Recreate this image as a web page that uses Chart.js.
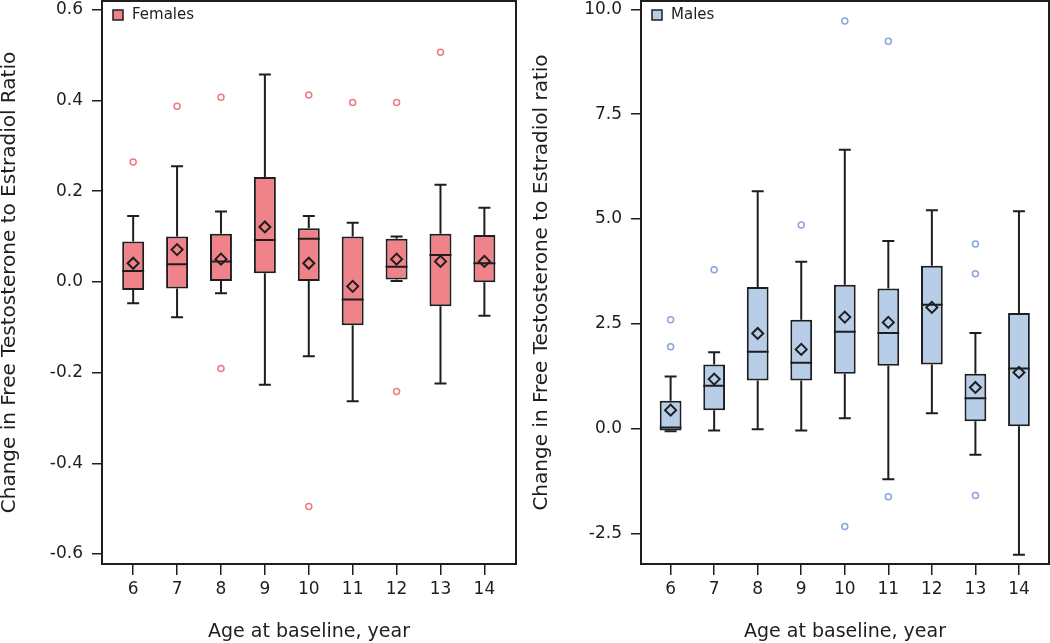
<!DOCTYPE html>
<html>
<head>
<meta charset="utf-8">
<title>Change in Free Testosterone to Estradiol Ratio by age</title>
<script src="https://cdn.jsdelivr.net/npm/chart.js@4.4.1/dist/chart.umd.min.js"></script>
<style>
    body { margin: 0; background: #fff; }
    .panel { position: absolute; top: 0; width: 525px; height: 643px; }
</style>
</head>
<body>
<div class="panel" style="left:0"><canvas id="femaleChart"></canvas></div>
<div class="panel" style="left:525px"><canvas id="maleChart"></canvas></div>
<script>
// Age categories (x axis)
const ages = [6, 7, 8, 9, 10, 11, 12, 13, 14];

// Females - box statistics
const femMin  = [-0.047, -0.078, -0.025, -0.227, -0.164, -0.263, 0.002, -0.224, -0.075];
const femQ1   = [-0.018, -0.015, 0.002, 0.019, 0.002, -0.096, 0.005, -0.054, -0.001];
const femMed  = [0.024, 0.039, 0.045, 0.092, 0.095, -0.039, 0.033, 0.059, 0.041];
const femQ3   = [0.089, 0.100, 0.106, 0.231, 0.118, 0.100, 0.095, 0.106, 0.103];
const femMax  = [0.145, 0.255, 0.155, 0.457, 0.145, 0.130, 0.100, 0.214, 0.163];
const femMean = [0.041, 0.071, 0.050, 0.121, 0.041, -0.010, 0.050, 0.045, 0.045];
const femOutAge = [6, 7, 8, 8, 10, 10, 11, 12, 12, 13];
const femOutVal = [0.264, 0.387, 0.407, -0.191, 0.412, -0.495, 0.395, 0.395, -0.242, 0.506];
const femTicks = [-0.6, -0.4, -0.2, 0.0, 0.2, 0.4, 0.6];

// Males - box statistics
const maleMin  = [-0.06, -0.04, -0.01, -0.04, 0.253, -1.202, 0.372, -0.620, -3.006];
const maleQ1   = [-0.04, 0.444, 1.152, 1.152, 1.312, 1.503, 1.534, 0.181, 0.062];
const maleMed  = [0.031, 1.026, 1.837, 1.574, 2.314, 2.281, 2.958, 0.730, 1.438];
const maleQ3   = [0.668, 1.534, 3.378, 2.600, 3.435, 3.347, 3.888, 1.312, 2.758];
const maleMax  = [1.248, 1.827, 5.661, 3.984, 6.655, 4.475, 5.208, 2.281, 5.184];
const maleMean = [0.444, 1.184, 2.273, 1.892, 2.662, 2.536, 2.894, 0.985, 1.343];
const maleOutAge = [6, 6, 7, 9, 10, 10, 11, 11, 13, 13, 13];
const maleOutVal = [2.60, 1.956, 3.793, 4.857, 9.723, -2.331, 9.239, -1.622, 4.404, 3.698, -1.591];
const maleTicks = [-2.5, 0.0, 2.5, 5.0, 7.5, 10.0];

const INK = "#1e1e1e";
const FONT = "'DejaVu Sans', sans-serif";

// whiskers, caps, medians, legend key and the plot frame
const boxParts = {
    id: 'boxParts',
    beforeDatasetsDraw(chart, args, opts) {
        const ctx = chart.ctx, x = chart.scales.x, y = chart.scales.y;
        ctx.save();
        ctx.strokeStyle = INK;
        ctx.lineWidth = 2;
        ctx.beginPath();
        ages.forEach((a, i) => {
            const px = x.getPixelForValue(a);
            const top = y.getPixelForValue(opts.max[i]);
            const bot = y.getPixelForValue(opts.min[i]);
            ctx.moveTo(px, top); ctx.lineTo(px, y.getPixelForValue(opts.q3[i]));
            ctx.moveTo(px, y.getPixelForValue(opts.q1[i])); ctx.lineTo(px, bot);
            ctx.moveTo(px - 6, top); ctx.lineTo(px + 6, top);
            ctx.moveTo(px - 6, bot); ctx.lineTo(px + 6, bot);
        });
        ctx.stroke();
        ctx.restore();
    },
    afterDatasetDraw(chart, args, opts) {
        if (args.index !== 0) return;
        const ctx = chart.ctx, y = chart.scales.y;
        const bars = chart.getDatasetMeta(0).data;
        ctx.save();
        ctx.strokeStyle = INK;
        ctx.lineWidth = 2;
        ctx.beginPath();
        bars.forEach((bar, i) => {
            const py = y.getPixelForValue(opts.med[i]);
            ctx.moveTo(bar.x - bar.width / 2, py);
            ctx.lineTo(bar.x + bar.width / 2, py);
        });
        ctx.stroke();
        ctx.restore();
    },
    afterDraw(chart) {
        const a = chart.chartArea, ctx = chart.ctx;
        const ds = chart.data.datasets[0];
        ctx.save();
        ctx.strokeStyle = INK;
        ctx.lineWidth = 2;
        ctx.strokeRect(a.left, a.top, a.right - a.left, a.bottom - a.top);
        // legend key in the top-left corner of the plot
        ctx.fillStyle = ds.backgroundColor;
        ctx.lineWidth = 1.5;
        ctx.fillRect(a.left + 11, a.top + 9, 10, 10);
        ctx.strokeRect(a.left + 11, a.top + 9, 10, 10);
        ctx.fillStyle = INK;
        ctx.font = "15px " + FONT;
        ctx.textBaseline = 'middle';
        ctx.fillText(ds.label, a.left + 30, a.top + 14.5);
        ctx.restore();
    }
};

function boxChart(id, s) {
    return new Chart(document.getElementById(id), {
        type: 'bar',
        data: {
            datasets: [{
                label: s.label,
                data: ages.map((a, i) => ({ x: a, y: [s.q1[i], s.q3[i]] })),
                backgroundColor: s.fill,
                borderColor: INK,
                borderWidth: 2,
                borderSkipped: false,
                categoryPercentage: 1,
                barPercentage: 0.5,
                order: 3
            }, {
                type: 'scatter',
                label: 'Mean',
                data: ages.map((a, i) => ({ x: a, y: s.mean[i] })),
                pointStyle: 'rectRot',
                pointRadius: 5.5,
                backgroundColor: 'rgba(0,0,0,0)',
                borderColor: INK,
                borderWidth: 2,
                order: 1
            }, {
                type: 'scatter',
                label: 'Outliers',
                data: s.outAge.map((a, i) => ({ x: a, y: s.outVal[i] })),
                pointStyle: 'circle',
                pointRadius: 3,
                backgroundColor: 'rgba(0,0,0,0)',
                borderColor: s.outColor,
                borderWidth: 1.5,
                order: 2
            }]
        },
        options: {
            responsive: true,
            maintainAspectRatio: false,
            animation: false,
            layout: { padding: s.padding, autoPadding: false },
            plugins: {
                legend: { display: false },
                tooltip: { enabled: false },
                boxParts: { min: s.min, q1: s.q1, med: s.med, q3: s.q3, max: s.max }
            },
            scales: {
                x: {
                    type: 'linear',
                    min: s.xMin,
                    max: s.xMax,
                    offset: false,
                    afterBuildTicks: sc => { sc.ticks = ages.map(v => ({ value: v })); },
                    afterFit: sc => { sc.height = 79; sc.paddingLeft = 0; sc.paddingRight = 0; },
                    grid: { drawOnChartArea: false, drawTicks: true, tickLength: 11, color: INK, lineWidth: 1.5, offset: false },
                    border: { display: false },
                    ticks: { color: INK, padding: 4, maxRotation: 0, autoSkip: false, font: { family: FONT, size: 17 }, callback: v => String(v) },
                    title: { display: true, text: 'Age at baseline, year', color: INK, padding: 0, font: { family: FONT, size: 19 } }
                },
                y: {
                    min: s.yMin,
                    max: s.yMax,
                    afterBuildTicks: sc => { sc.ticks = s.ticks.map(v => ({ value: v })); },
                    afterFit: sc => { sc.width = s.yWidth; sc.paddingTop = 0; sc.paddingBottom = 0; },
                    grid: { drawOnChartArea: false, drawTicks: true, tickLength: 10, color: INK, lineWidth: 1.5 },
                    border: { display: false },
                    ticks: { color: INK, padding: 9, autoSkip: false, font: { family: FONT, size: 17 }, callback: v => v.toFixed(1) },
                    title: { display: true, text: s.yTitle, color: INK, padding: { top: s.titlePad, bottom: 0 }, font: { family: FONT, size: 20, lineHeight: 1 } }
                }
            }
        },
        plugins: [boxParts]
    });
}

// Females chart
boxChart("femaleChart", {
    label: "Females",
    fill: "#f0838a",
    outColor: "#f07880",
    min: femMin, q1: femQ1, med: femMed, q3: femQ3, max: femMax, mean: femMean,
    outAge: femOutAge, outVal: femOutVal, ticks: femTicks,
    xMin: 5.29, xMax: 14.72, yMin: -0.622, yMax: 0.619,
    yWidth: 102, titlePad: 0,
    yTitle: "Change in Free Testosterone to Estradiol Ratio",
    padding: { top: 1, right: 9, left: 0, bottom: 0 }
});

// Males chart
boxChart("maleChart", {
    label: "Males",
    fill: "#b8cee8",
    outColor: "#86a6dc",
    min: maleMin, q1: maleQ1, med: maleMed, q3: maleQ3, max: maleMax, mean: maleMean,
    outAge: maleOutAge, outVal: maleOutVal, ticks: maleTicks,
    xMin: 5.32, xMax: 14.69, yMin: -3.225, yMax: 10.2,
    yWidth: 116, titlePad: 7,
    yTitle: "Change in Free Testosterone to Estradiol ratio",
    padding: { top: 1, right: 1, left: 0, bottom: 0 }
});
</script>
</body>
</html>
